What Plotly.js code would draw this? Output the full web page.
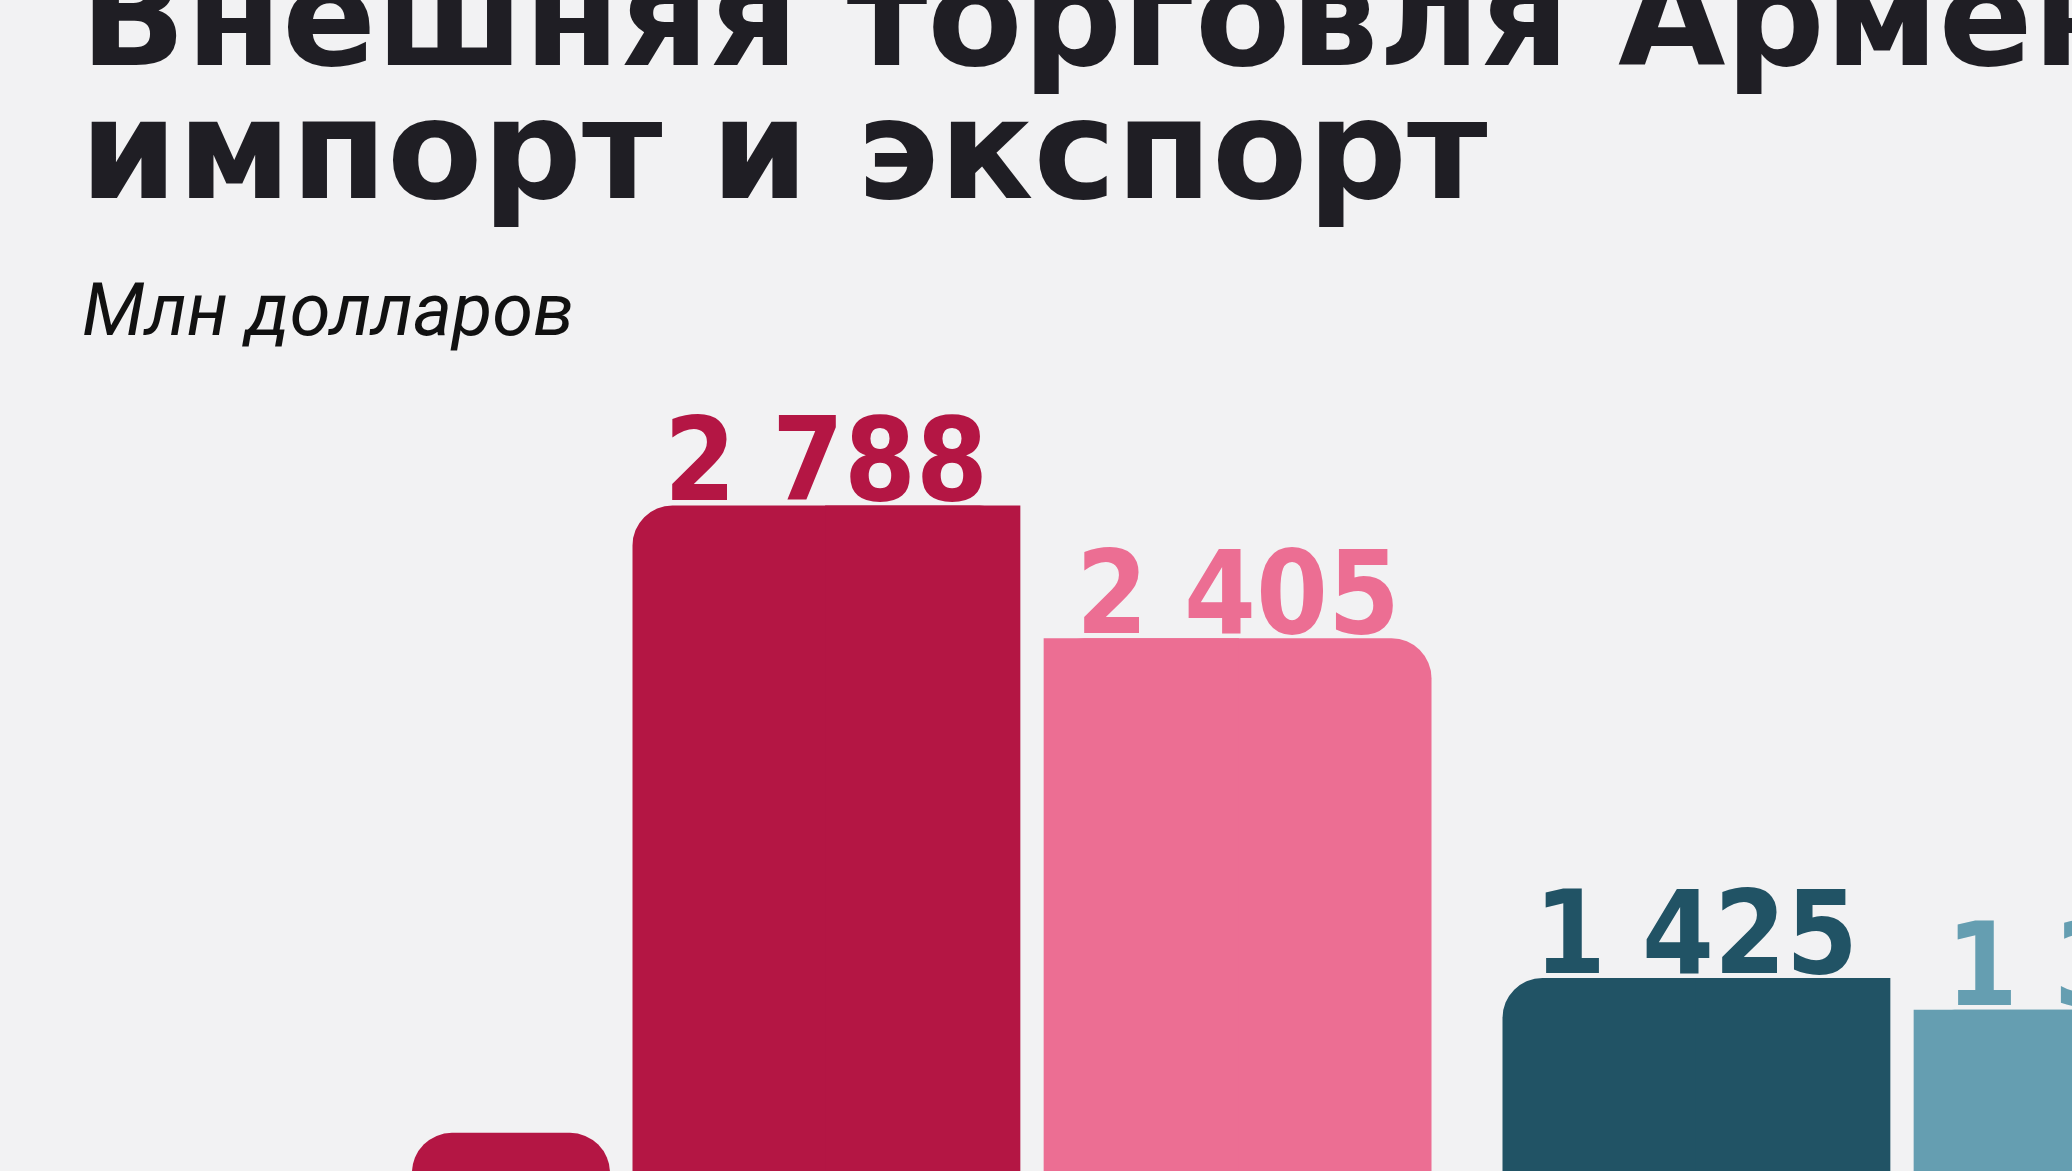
<!DOCTYPE html>
<html>
<head>
<meta charset="utf-8">
<script src="https://cdn.plot.ly/plotly-3.0.1.min.js"></script>
<style>
  html, body { margin: 0; padding: 0; background: #f2f2f3; overflow: hidden; }
  #chart { width: 2072px; height: 1171px; }
</style>
</head>
<body>
<div id="chart"></div>
<script>
// ---- data ----
const titleLine1 = "Внешняя торговля Армении:";
const titleLine2 = "импорт и экспорт";
const subtitle = "Млн долларов";
const values = [978, 2788, 2405, 1425, 1333];
const valueLabels = ["", "2 788", "2 405", "1 425", "1 333"];

// ---- styles / layout (not data) ----
const barColors = ["#b41644", "#b41644", "#ec6e93", "#215365", "#659eb1"];
const slotCenter = [0.4011, 1 - 0.2368, 1 + 0.2368, 2 - 0.2368, 2 + 0.2368];
const slotWidth = [0.2276, 0.4448, 0.4448, 0.4448, 0.4448];
const squareSide = [null, "right", "left", "right", "left"];
const xRange = [-0.18621, 2.19540];
const yRange = [868, 4246];

const W = 2072, H = 1171;
const px2paperY = p => 1 - p / H;
const px2paperX = p => p / W;
// x position on the x axis expressed as a fraction of the plot width
const axisToPaperX = v => (v - xRange[0]) / (xRange[1] - xRange[0]);

// rounded bars
const roundedTrace = {
  type: "bar",
  x: slotCenter,
  y: values,
  width: slotWidth,
  marker: { color: barColors, cornerradius: 40, line: { width: 0 } },
  hoverinfo: "skip",
  showlegend: false
};

// square patches to keep the inner top corners sharp
const sqIdx = squareSide.map((s, i) => s ? i : -1).filter(i => i >= 0);
const squareTrace = {
  type: "bar",
  x: sqIdx.map(i => slotCenter[i] + (squareSide[i] === "right" ? 1 : -1) * slotWidth[i] / 4),
  y: sqIdx.map(i => values[i]),
  width: sqIdx.map(i => slotWidth[i] / 2 + 0.002),
  marker: { color: sqIdx.map(i => barColors[i]), line: { width: 0 } },
  hoverinfo: "skip",
  showlegend: false
};

const labelAnnotations = values.map((v, i) => ({
  x: axisToPaperX(slotCenter[i]), y: v, xref: "paper", yref: "y",
  text: valueLabels[i], showarrow: false,
  xanchor: "center", yanchor: "bottom", yshift: -22,
  borderpad: 0, borderwidth: 0,
  font: { family: "DejaVu Sans Condensed, Inter", size: 115, weight: 700, color: barColors[i] }
})).filter(a => a.text);

const layout = {
  width: W, height: H,
  margin: { l: 0, r: 0, t: 0, b: 0, pad: 0 },
  paper_bgcolor: "#f2f2f3",
  plot_bgcolor: "#f2f2f3",
  barmode: "overlay",
  title: {
    text: titleLine1,
    font: { family: "DejaVu Sans", size: 139, weight: 700, color: "#1f1e24" },
    xref: "container", yref: "container",
    x: px2paperX(80), xanchor: "left",
    y: px2paperY(65), yanchor: "bottom",
    pad: { t: 0, b: 0, l: 0, r: 0 }
  },
  xaxis: { range: xRange, visible: false, fixedrange: true },
  yaxis: { range: yRange, visible: false, fixedrange: true },
  showlegend: false,
  annotations: [
    {
      xref: "paper", yref: "paper",
      x: px2paperX(80), y: px2paperY(198 + 33),
      xanchor: "left", yanchor: "bottom",
      text: titleLine2, showarrow: false, borderpad: 0, borderwidth: 0,
      font: { family: "DejaVu Sans", size: 139, weight: 700, color: "#1f1e24" }
    },
    {
      xref: "paper", yref: "paper",
      x: px2paperX(82), y: px2paperY(335 + 18.3),
      xanchor: "left", yanchor: "bottom",
      text: subtitle, showarrow: false, borderpad: 0, borderwidth: 0,
      font: { family: "Roboto", size: 74, weight: 400, style: "italic", color: "#111111" }
    }
  ].concat(labelAnnotations)
};

Plotly.newPlot("chart", [roundedTrace, squareTrace], layout, { displayModeBar: false, staticPlot: true });
</script>
</body>
</html>
